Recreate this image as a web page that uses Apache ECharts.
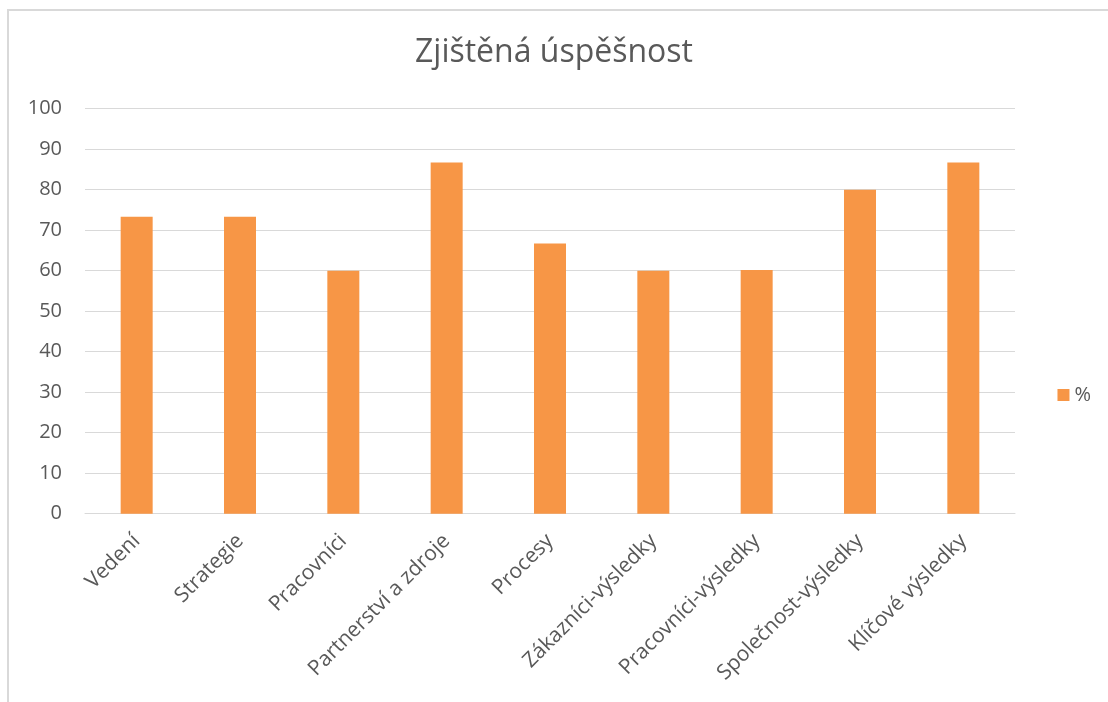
<!DOCTYPE html>
<html><head><meta charset="utf-8">
<script src="https://cdn.jsdelivr.net/npm/echarts@6/dist/echarts.min.js"></script>
<style>html,body{margin:0;padding:0;background:#fff}#c{width:1108px;height:702px}</style>
</head><body><div id="c"></div>
<script>
const categories = ['Vedení','Strategie','Pracovníci','Partnerství a zdroje','Procesy','Zákazníci-výsledky','Pracovníci-výsledky','Společnost-výsledky','Klíčové výsledky'];
const values = [73.3, 73.3, 60, 86.7, 66.7, 60, 60.2, 80, 86.7];
const seriesName = '%';
const titleText = 'Zjištěná úspěšnost';
const FONT = '"Open Sans", sans-serif';
const chart = echarts.init(document.getElementById('c'), null, {renderer:'canvas'});
chart.setOption({
  animation:false,
  title:{text:titleText,left:'center',top:32,textStyle:{fontFamily:FONT,fontSize:32,fontWeight:'normal',color:'#595959'}},
  graphic:[{type:'rect',shape:{x:8,y:10,width:1200,height:800},style:{fill:'none',stroke:'#d9d9d9',lineWidth:2},silent:true,z:-1}],
  legend:{data:[seriesName],orient:'vertical',right:12,top:380,itemWidth:12,itemHeight:12,itemGap:6,icon:'rect',textStyle:{fontFamily:FONT,fontSize:20,color:'#595959'}},
  grid:{left:85,right:93,top:108.7,bottom:188.3,containLabel:false},
  xAxis:{type:'category',data:categories,axisTick:{show:false},axisLine:{lineStyle:{color:'#d9d9d9',width:1}},
    axisLabel:{rotate:45,interval:0,margin:24,fontFamily:FONT,fontSize:21,color:'#595959'}},
  yAxis:{type:'value',min:0,max:100,interval:10,axisLine:{show:false},axisTick:{show:false},
    splitLine:{lineStyle:{color:'#d9d9d9',width:1}},
    axisLabel:{margin:23,fontFamily:FONT,fontSize:20,color:'#595959'}},
  series:[{name:seriesName,type:'bar',data:values,barWidth:32,itemStyle:{color:'#F79646'}}]
});
</script></body></html>
